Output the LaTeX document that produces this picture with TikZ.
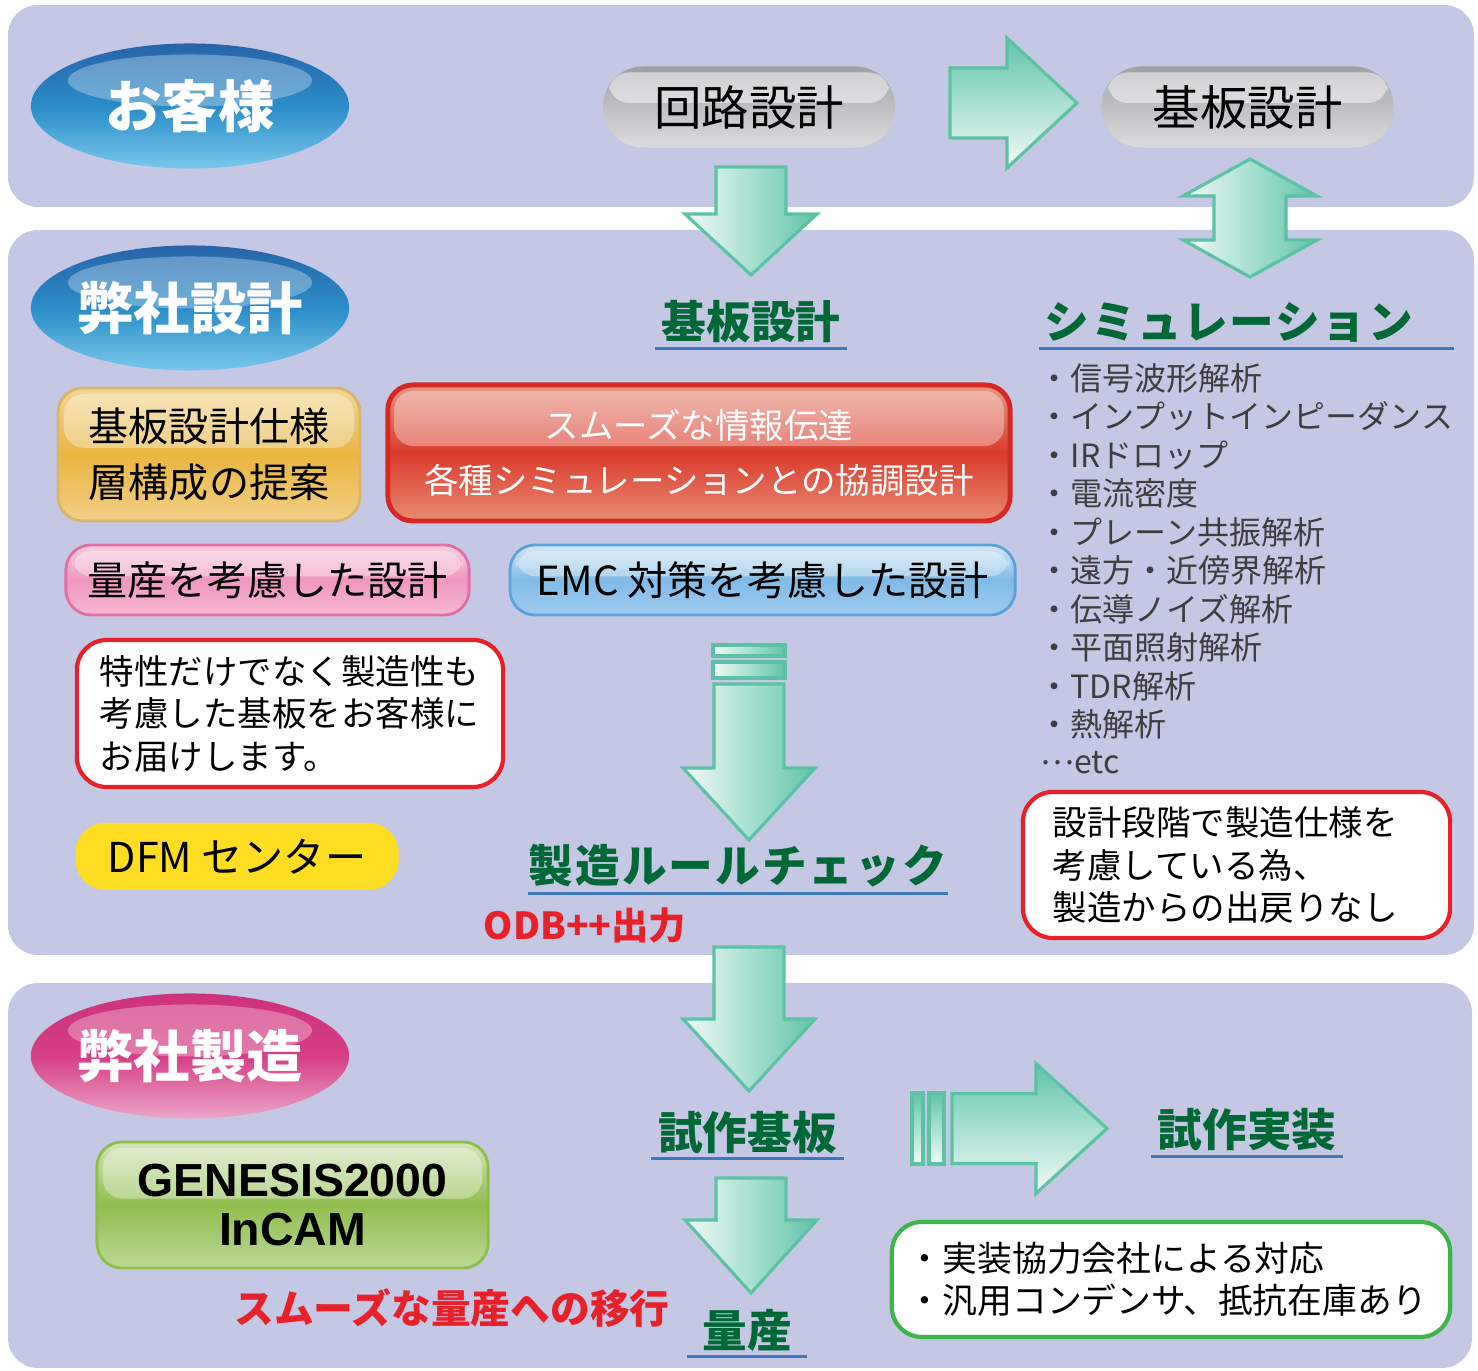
\documentclass[tikz,border=0pt]{standalone}
\usepackage{fontspec}
\setmainfont{Noto Sans CJK JP}
\newfontfamily\genesisfont{Liberation Sans}
\usetikzlibrary{positioning,shapes.geometric,calc}

\definecolor{panelbg}{RGB}{197,200,228}
\definecolor{arrowteal}{RGB}{98,196,172}
\definecolor{arrowwhite}{RGB}{240,250,246}
\definecolor{arrowline}{RGB}{92,194,166}
\definecolor{headgreen}{RGB}{0,104,55}
\definecolor{ruleblue}{RGB}{60,120,190}
\definecolor{alertred}{RGB}{232,32,42}
\definecolor{listgray}{RGB}{62,62,66}
\definecolor{blueA}{RGB}{40,100,170}
\definecolor{blueB}{RGB}{42,140,200}
\definecolor{blueC}{RGB}{120,200,235}
\definecolor{pinkA}{RGB}{205,50,125}
\definecolor{pinkB}{RGB}{214,62,135}
\definecolor{pinkC}{RGB}{236,165,200}
\definecolor{pillA}{RGB}{160,160,164}
\definecolor{pillB}{RGB}{192,192,196}
\definecolor{pillC}{RGB}{220,220,222}
\definecolor{orangeA}{RGB}{242,214,150}
\definecolor{orangeB}{RGB}{233,181,64}
\definecolor{orangeC}{RGB}{243,208,135}
\definecolor{orangeline}{RGB}{218,180,108}
\definecolor{redA}{RGB}{232,150,130}
\definecolor{redB}{RGB}{218,58,44}
\definecolor{redC}{RGB}{232,140,115}
\definecolor{redline}{RGB}{214,40,34}
\definecolor{pinkboxA}{RGB}{249,205,224}
\definecolor{pinkboxB}{RGB}{240,150,192}
\definecolor{pinkboxC}{RGB}{246,184,211}
\definecolor{pinkline}{RGB}{227,110,165}
\definecolor{skyA}{RGB}{213,232,246}
\definecolor{skyB}{RGB}{128,186,230}
\definecolor{skyC}{RGB}{160,204,238}
\definecolor{skyline}{RGB}{90,163,218}
\definecolor{dfmyellow}{RGB}{254,221,35}
\definecolor{limeA}{RGB}{212,228,184}
\definecolor{limeB}{RGB}{145,190,79}
\definecolor{limeC}{RGB}{187,216,150}
\definecolor{limeline}{RGB}{140,191,70}
\definecolor{frameGreen}{RGB}{61,181,74}

\tikzset{
  panel/.style={fill=panelbg, rounded corners=0.3cm},
  gloss/.style={path picture={\fill[white, opacity=#1, rounded corners=0.2cm]
      ([shift={(0.06cm,-0.06cm)}]path picture bounding box.north west) rectangle
      ($(path picture bounding box.north east)!0.45!(path picture bounding box.south east)+(-0.06cm,0)$);}},
  bubble/.style={ellipse, minimum width=3.18cm, minimum height=1.25cm, inner sep=0pt,
    text=white, font=\fontsize{16}{18}\selectfont\bfseries,
    path picture={\fill[white, opacity=0.3]
      ([yshift=-0.37cm]path picture bounding box.north) ellipse (1.22cm and 0.26cm);}},
  blue bubble/.style={bubble, top color=blueA, bottom color=blueC, middle color=blueB},
  pink bubble/.style={bubble, top color=pinkA, bottom color=pinkC, middle color=pinkB},
  pill/.style={rounded corners=0.4cm, minimum width=2.92cm, minimum height=0.81cm,
    top color=pillA, bottom color=pillC, middle color=pillB, gloss=0.5,
    font=\fontsize{13.5}{16}\selectfont},
  glossbox/.style={rounded corners=0.25cm, gloss=0.35, line width=0.8pt, align=center,
    font=\fontsize{11.4}{15.9}\selectfont},
  heading/.style={text=headgreen, font=\fontsize{12.7}{14}\selectfont\bfseries,
    inner xsep=0pt, inner ysep=0pt, text height=0.4cm, text depth=0.06cm, minimum width=#1},
  rule/.style={draw=ruleblue, line width=0.7pt},
  notebox/.style={fill=white, line width=1.2pt, rounded corners=0.3cm, align=left,
    font=\fontsize{9.8}{12.1}\selectfont},
  simitem/.style={anchor=west, inner sep=0pt, text=listgray, font=\fontsize{9.1}{11}\selectfont},
  redword/.style={text=alertred, font=\fontsize{#1}{14}\selectfont\bfseries},
  down body/.style={draw=arrowline, line width=0.9pt, left color=arrowwhite, right color=arrowteal},
  side body/.style={draw=arrowline, line width=0.9pt, top color=arrowteal, bottom color=arrowwhite},
  pics/down arrow/.style 2 args={
    code={
      \path[down body] (-35,0) -- (35,0) -- (35,#1) -- (66,#1) -- (0,#1+#2)
        -- (-66,#1) -- (-35,#1) -- cycle;
    }
  },
  pics/right arrow/.style 2 args={
    code={
      \path[side body] (0,-35) -- (#1,-35) -- (#1,-65) -- (#1+#2,0) -- (#1,65)
        -- (#1,35) -- (0,35) -- cycle;
    }
  }
}

\begin{document}
\begin{tikzpicture}[x=0.01cm, y=-0.01cm]
  \useasboundingbox (0,0) rectangle (1478,1371);
  \fill[white] (0,0) rectangle (1478,1371);
  \path[panel] (8,5) rectangle (1474,207);
  \path[panel] (8,230) rectangle (1474,955);
  \path[panel] (8,983) rectangle (1472,1368);

  % customer band
  \node[blue bubble] (cust) at (190,106) {お客様};
  \node[pill] (kairo) at (749,107) {回路設計};
  \node[pill, right=2.05cm of kairo] (kibantop) {基板設計};
  \pic at (950,103) {right arrow={57}{70}};
  \pic at (751,167) {down arrow={47}{61}};
  \path[down body] (1250,159) -- (1317,196) -- (1286,196) -- (1286,240) -- (1317,240)
    -- (1250,277) -- (1183,240) -- (1214,240) -- (1214,196) -- (1183,196) -- cycle;

  % design band
  \node[blue bubble] (dsgn) at (190,308) {弊社設計};
  \node[heading=1.9cm] (hkiban) at (751,322) {基板設計};
  \draw[rule] ([yshift=-0.03cm]hkiban.south west) -- ([yshift=-0.03cm]hkiban.south east);
  \node[heading=0pt, text width=4.13cm, align=left] (hsim) at (1246.5,322)
    {\hspace*{0.05cm}{\addfontfeatures{LetterSpace=4}シミュレーション}};
  \draw[rule] ([yshift=-0.03cm]hsim.south west) -- ([yshift=-0.03cm]hsim.south east);

  \foreach \simname [count=\i, evaluate=\i as \ypos using 378+38.5*(\i-1)] in
    {信号波形解析, インプットインピーダンス, IRドロップ, 電流密度, プレーン共振解析,
     遠方・近傍界解析, 伝導ノイズ解析, 平面照射解析, TDR解析, 熱解析}
    {\node[simitem] (sim\i) at (1038,\ypos) {・\simname};}
  \node[simitem] (simetc) at (1040,763) {\raisebox{0.09cm}{…}etc};

  \node[glossbox, draw=orangeline, top color=orangeA, bottom color=orangeC, middle color=orangeB,
    minimum width=3.02cm, minimum height=1.33cm] (spec) at (209,454.5) {基板設計仕様\\層構成の提案};
  \node[glossbox, draw=redline, line width=1.4pt, top color=redA, bottom color=redC, middle color=redB,
    text=white, font=\fontsize{9.8}{15.6}\selectfont,
    minimum width=6.22cm, minimum height=1.36cm] (relay) at (699,453)
    {スムーズな情報伝達\\各種シミュレーションとの協調設計};
  \node[glossbox, draw=pinkline, top color=pinkboxA, bottom color=pinkboxC, middle color=pinkboxB,
    minimum width=4.03cm, minimum height=0.7cm] (massbox) at (267.5,580) {量産を考慮した設計};
  \node[glossbox, draw=skyline, top color=skyA, bottom color=skyC, middle color=skyB,
    minimum width=5.05cm, minimum height=0.7cm, right=0.38cm of massbox] (emcbox) {EMC 対策を考慮した設計};

  \node[notebox, draw=alertred, inner xsep=0.23cm, text width=3.8cm, minimum height=1.47cm]
    (note) at (290,713.5) {特性だけでなく製造性も\\考慮した基板をお客様に\\お届けします。};
  \node[fill=dfmyellow, rounded corners=0.3cm, minimum width=3.23cm, minimum height=0.67cm,
    font=\fontsize{11.7}{14}\selectfont, below=0.33cm of note.south west, anchor=north west]
    (dfm) {DFM センター};

  \path[down body] (713,645) rectangle (785,656);
  \path[down body] (713,662) rectangle (785,678);
  \pic at (749,684) {down arrow={84}{72}};
  \node[heading=4.01cm] (hrule) at (738,866) {{\addfontfeatures{LetterSpace=4.5}製造ルールチェック}};
  \draw[rule] ([yshift=-0.04cm]hrule.south west) -- ([yshift=-0.04cm]hrule.south east);
  \node[redword=10.6] (odb) at (585,925) {ODB++出力};

  \node[notebox, draw=alertred, inner xsep=0.3cm, text width=3.67cm, minimum height=1.46cm]
    (noback) at (1236.5,865) {設計段階で製造仕様を\\考慮している為、\\製造からの出戻りなし};

  % manufacturing band
  \pic at (749,947) {down arrow={72}{72}};
  \node[pink bubble] (mfg) at (190,1056) {弊社製造};
  \node[heading=1.91cm] (hproto) at (747.5,1132) {試作基板};
  \draw[rule] ([yshift=-0.03cm]hproto.south west) -- ([yshift=-0.03cm]hproto.south east);
  \path[side body] (912,1093) rectangle (923,1164);
  \path[side body] (929,1093) rectangle (944,1164);
  \pic at (952,1128.5) {right arrow={84}{71}};
  \node[heading=1.9cm] (hmount) at (1247,1130) {試作実装};
  \draw[rule] ([yshift=-0.03cm]hmount.south west) -- ([yshift=-0.03cm]hmount.south east);
  \node[notebox, draw=frameGreen, inner xsep=0.16cm, text width=5.26cm, minimum height=1.15cm,
    font=\fontsize{9.9}{12}\selectfont] (partner) at (1171,1279.5)
    {・実装協力会社による対応\\・汎用コンデンサ、抵抗在庫あり};

  \node[glossbox, draw=limeline, top color=limeA, bottom color=limeC, middle color=limeB,
    font=\genesisfont\fontsize{13.2}{14.2}\selectfont\bfseries,
    minimum width=3.91cm, minimum height=1.26cm] (genesis) at (292.5,1205) {GENESIS2000\\InCAM};
  \node[redword=11.3] (smooth) at (452,1308) {スムーズな量産への移行};
  \pic at (751,1178) {down arrow={42}{73}};
  \node[heading=1.18cm] (hmass) at (747,1330) {量産};
  \draw[rule] ([yshift=-0.03cm]hmass.south west) -- ([yshift=-0.03cm]hmass.south east);
\end{tikzpicture}
\end{document}
